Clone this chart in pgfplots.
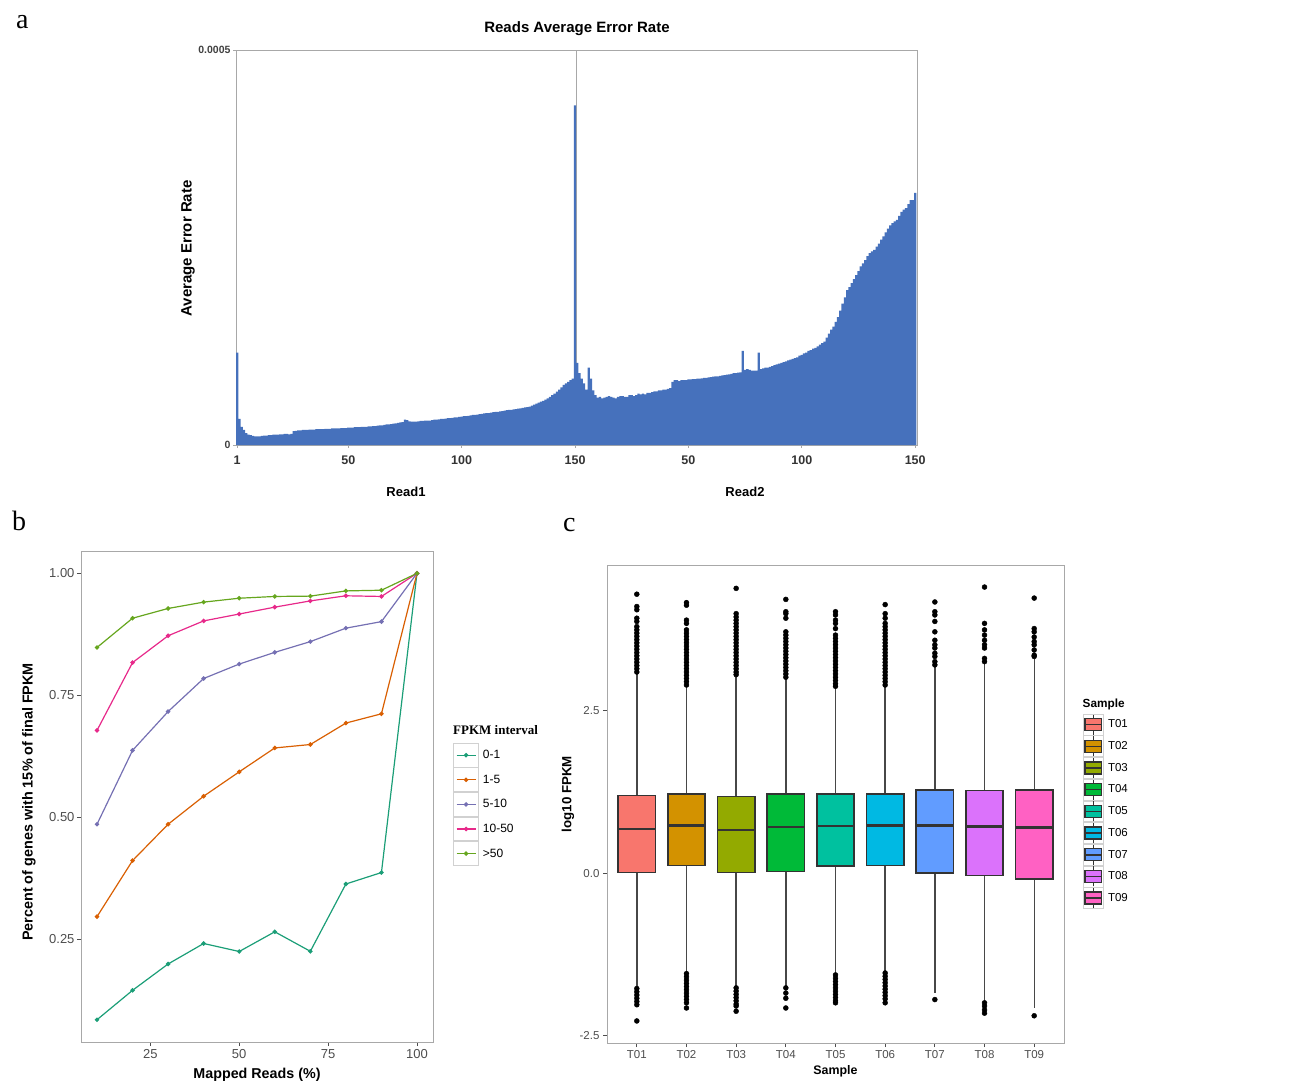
\documentclass[border=0pt]{standalone}
\usepackage{pgfplots}
\pgfplotsset{compat=1.18}
\usepgfplotslibrary{statistics}
\usepackage{fontspec}
\setmainfont{Liberation Sans}
\newfontfamily\seriffont{Liberation Serif}
\definecolor{barblue}{HTML}{4671BC}
\definecolor{d1}{HTML}{1B9E77}
\definecolor{d2}{HTML}{D95F02}
\definecolor{d3}{HTML}{7570B3}
\definecolor{d4}{HTML}{E7298A}
\definecolor{d5}{HTML}{66A61E}
\definecolor{h1}{HTML}{F8766D}
\definecolor{h2}{HTML}{D39200}
\definecolor{h3}{HTML}{93AA00}
\definecolor{h4}{HTML}{00BA38}
\definecolor{h5}{HTML}{00C19F}
\definecolor{h6}{HTML}{00B9E3}
\definecolor{h7}{HTML}{619CFF}
\definecolor{h8}{HTML}{DB72FB}
\definecolor{h9}{HTML}{FF61C3}
\definecolor{frame}{HTML}{A8A8A8}
\definecolor{tlab}{HTML}{4D4D4D}
\definecolor{boxline}{HTML}{333333}

\pgfplotstableread{
x y
1 11.7
2 3.3
3 2.3
4 1.9
5 1.5
6 1.3
7 1.25
8 1.15
9 1.1
10 1.1
11 1.1
12 1.15
13 1.2
14 1.2
15 1.25
16 1.25
17 1.3
18 1.3
19 1.3
20 1.35
21 1.35
22 1.4
23 1.4
24 1.35
25 1.4
26 1.75
27 1.8
28 1.85
29 1.85
30 1.9
31 1.9
32 1.9
33 1.95
34 1.95
35 1.95
36 2.0
37 2.0
38 2.0
39 2.0
40 2.05
41 2.05
42 2.05
43 2.1
44 2.1
45 2.1
46 2.1
47 2.15
48 2.15
49 2.15
50 2.2
51 2.2
52 2.2
53 2.25
54 2.25
55 2.25
56 2.3
57 2.3
58 2.3
59 2.35
60 2.35
61 2.4
62 2.4
63 2.45
64 2.5
65 2.5
66 2.55
67 2.6
68 2.6
69 2.65
70 2.7
71 2.75
72 2.8
73 2.85
74 2.9
75 3.2
76 3.15
77 3.0
78 2.95
79 2.95
80 2.95
81 3.0
82 3.05
83 3.05
84 3.1
85 3.1
86 3.1
87 3.15
88 3.2
89 3.2
90 3.25
91 3.3
92 3.3
93 3.35
94 3.4
95 3.4
96 3.45
97 3.5
98 3.5
99 3.55
100 3.6
101 3.65
102 3.65
103 3.7
104 3.75
105 3.8
106 3.8
107 3.85
108 3.9
109 3.95
110 4.0
111 4.05
112 4.05
113 4.1
114 4.15
115 4.2
116 4.2
117 4.25
118 4.3
119 4.35
120 4.4
121 4.45
122 4.45
123 4.5
124 4.55
125 4.6
126 4.65
127 4.7
128 4.75
129 4.8
130 4.85
131 5.0
132 5.1
133 5.25
134 5.35
135 5.5
136 5.6
137 5.75
138 5.9
139 6.1
140 6.3
141 6.5
142 6.75
143 7.0
144 7.3
145 7.6
146 7.8
147 8.0
148 8.2
149 8.4
150 43.0
151 10.4
152 9.1
153 8.4
154 7.8
155 7.0
156 9.8
157 8.4
158 6.9
159 6.3
160 6.0
161 6.1
162 5.9
163 6.0
164 6.1
165 6.2
166 6.1
167 6.0
168 5.9
169 6.1
170 6.2
171 6.2
172 6.1
173 6.1
174 6.3
175 6.3
176 6.2
177 6.3
178 6.5
179 6.4
180 6.5
181 6.4
182 6.6
183 6.6
184 6.7
185 6.8
186 6.8
187 6.9
188 6.9
189 7.0
190 7.0
191 7.1
192 7.2
193 8.0
194 8.2
195 8.2
196 8.1
197 8.2
198 8.2
199 8.2
200 8.3
201 8.3
202 8.35
203 8.35
204 8.4
205 8.4
206 8.45
207 8.5
208 8.5
209 8.55
210 8.6
211 8.65
212 8.7
213 8.7
214 8.75
215 8.8
216 8.85
217 8.9
218 8.95
219 9.0
220 9.1
221 9.1
222 9.15
223 9.2
224 11.9
225 9.5
226 9.6
227 9.5
228 9.4
229 9.4
230 9.4
231 11.7
232 9.6
233 9.7
234 9.8
235 9.8
236 9.9
237 10.0
238 10.1
239 10.2
240 10.3
241 10.4
242 10.5
243 10.6
244 10.7
245 10.8
246 10.9
247 11.0
248 11.1
249 11.3
250 11.4
251 11.6
252 11.7
253 11.9
254 12.0
255 12.2
256 12.3
257 12.5
258 12.7
259 12.9
260 13.1
261 13.6
262 14.1
263 14.6
264 15.0
265 15.6
266 16.2
267 17.0
268 17.9
269 18.7
270 19.6
271 20.0
272 20.5
273 21.0
274 21.5
275 22.0
276 22.6
277 23.0
278 23.4
279 23.9
280 24.3
281 24.5
282 24.7
283 25.1
284 25.5
285 26.0
286 26.4
287 26.9
288 27.4
289 27.8
290 28.1
291 28.3
292 28.5
293 29.0
294 29.5
295 29.8
296 30.0
297 30.5
298 31.0
299 31.0
300 31.9
}\errdata

\begin{document}
\begin{tikzpicture}
\path[use as bounding box] (0pt,0pt) rectangle (1293pt,-1082pt);

% ---------------- panel a ----------------
\begin{axis}[
  at={(236pt,-445pt)}, anchor=south west,
  scale only axis, width=681pt, height=395pt,
  xmin=0.5, xmax=300.8, ymin=0, ymax=50,
  axis line style={draw=frame, line width=0.9pt},
  tick align=outside, major tick length=3pt,
  xtick pos=lower, ytick pos=left,
  tick style={draw=frame, line width=0.8pt},
  xtick={1,50,100,150,200,250,300},
  xticklabels={1,50,100,150,50,100,150},
  ytick={0,50}, yticklabels={0,0.0005},
  xticklabel style={font=\bfseries\fontsize{12.5}{14}\selectfont, text=black!80, yshift=-4pt},
  yticklabel style={font=\bfseries\fontsize{10.5}{12}\selectfont, text=black!75, xshift=1pt},
]
\draw[frame, line width=0.8pt] (axis cs:150.5,0) -- (axis cs:150.5,50);
\addplot[ybar, bar width=1.0, fill=barblue, draw=none] table[x=x, y=y] {\errdata};
\end{axis}
\node[font=\bfseries\fontsize{15}{17}\selectfont] at (577pt,-29pt) {Reads Average Error Rate};
\node[rotate=90, font=\bfseries\fontsize{15}{17}\selectfont] at (188pt,-248.5pt) {Average Error Rate};
\node[font=\bfseries\fontsize{13}{15}\selectfont] at (406pt,-491.5pt) {Read1};
\node[font=\bfseries\fontsize{13}{15}\selectfont] at (745pt,-491.5pt) {Read2};
\node[anchor=base west, font=\seriffont\fontsize{28}{30}\selectfont, inner sep=0pt] at (16pt,-28pt) {a};

% ---------------- panel b ----------------
\begin{axis}[
  at={(81pt,-1042pt)}, anchor=south west,
  scale only axis, width=352pt, height=491pt,
  xmin=5.5, xmax=104.5, ymin=0.039, ymax=1.0458,
  axis line style={draw=frame, line width=0.9pt},
  tick align=outside, major tick length=4pt,
  xtick pos=lower, ytick pos=left,
  tick style={draw=tlab, line width=0.9pt},
  xtick={25,50,75,100}, xticklabels={25,50,75,100},
  ytick={0.25,0.5,0.75,1}, yticklabels={0.25,0.50,0.75,1.00},
  ticklabel style={font=\fontsize{13}{15}\selectfont, text=tlab},
  yticklabel style={xshift=1pt},
  legend style={at={(1.0568,0.6096)}, anchor=north west, draw=none, fill=none,
    inner sep=0pt, row sep=0pt, column sep=2pt,
    font=\fontsize{12}{14}\selectfont, cells={anchor=west}},
  legend image code/.code={
    \draw[black!18, fill=white, line width=0.8pt] (0pt,-11.9pt) rectangle (25pt,11.9pt);
    \draw[mark repeat=2, mark phase=2, #1] plot coordinates {(3pt,0pt) (12.5pt,0pt) (22pt,0pt)};
  },
]
\addplot[d1, line width=1.2pt, mark=*, mark size=1.6pt] coordinates {
(10,0.0847) (20,0.145) (30,0.199) (40,0.241) (50,0.2246) (60,0.265) (70,0.225) (80,0.363) (90,0.3865) (100,1.0)};
\addlegendentry{0-1}
\addplot[d2, line width=1.2pt, mark=*, mark size=1.6pt] coordinates {
(10,0.296) (20,0.411) (30,0.4855) (40,0.543) (50,0.593) (60,0.642) (70,0.649) (80,0.693) (90,0.712) (100,1.0)};
\addlegendentry{1-5}
\addplot[d3, line width=1.2pt, mark=*, mark size=1.6pt] coordinates {
(10,0.4855) (20,0.637) (30,0.7166) (40,0.7844) (50,0.814) (60,0.838) (70,0.860) (80,0.8876) (90,0.901) (100,1.0)};
\addlegendentry{5-10}
\addplot[d4, line width=1.2pt, mark=*, mark size=1.6pt] coordinates {
(10,0.678) (20,0.817) (30,0.872) (40,0.9025) (50,0.9166) (60,0.9307) (70,0.9435) (80,0.954) (90,0.9526) (100,1.0)};
\addlegendentry{10-50}
\addplot[d5, line width=1.2pt, mark=*, mark size=1.6pt] coordinates {
(10,0.848) (20,0.908) (30,0.928) (40,0.941) (50,0.949) (60,0.9526) (70,0.9533) (80,0.964) (90,0.9654) (100,1.0)};
\addlegendentry{>50}
\end{axis}
\node[font=\bfseries\fontsize{14.3}{16}\selectfont] at (257pt,-1075pt) {Mapped Reads (\%)};
\node[rotate=90, font=\bfseries\fontsize{14.4}{16}\selectfont] at (29pt,-802pt) {Percent of genes with 15\% of final FPKM};
\node[anchor=west, inner sep=0pt, font=\seriffont\bfseries\fontsize{13}{15}\selectfont] at (453pt,-730pt) {FPKM interval};
\node[anchor=base west, font=\seriffont\fontsize{28}{30}\selectfont, inner sep=0pt] at (12pt,-530pt) {b};

% ---------------- panel c ----------------
\begin{axis}[
  at={(607pt,-1043pt)}, anchor=south west,
  scale only axis, width=457pt, height=478pt,
  xmin=0.4, xmax=9.6, ymin=-2.62, ymax=4.75,
  axis line style={draw=frame, line width=0.9pt},
  tick align=outside, major tick length=4pt,
  xtick pos=lower, ytick pos=left,
  tick style={draw=tlab, line width=0.9pt},
  xtick={1,2,3,4,5,6,7,8,9},
  xticklabels={T01,T02,T03,T04,T05,T06,T07,T08,T09},
  ytick={-2.5,0,2.5}, yticklabels={-2.5,0.0,2.5},
  ticklabel style={font=\fontsize{11.5}{13}\selectfont, text=tlab},
  boxplot/draw direction=y,
  boxplot/every median/.style={line width=2.6pt, draw=boxline},
  boxplot/every box/.style={draw=boxline, line width=1.7pt},
  boxplot/every whisker/.style={draw=boxline!90, line width=1.4pt},
  legend style={at={(1.0405,0.6893)}, anchor=north west, draw=none, fill=none,
    inner sep=0pt, row sep=0pt, column sep=2pt,
    font=\fontsize{11.5}{13}\selectfont, cells={anchor=west}},
  legend image code/.code={
    \draw[black!18, fill=white, line width=0.8pt] (0pt,-10.45pt) rectangle (20.5pt,10.45pt);
    \draw[boxline, line width=1pt] (10.25pt,-10pt) -- (10.25pt,10pt);
    \draw[#1, line width=1.4pt] (2pt,-6pt) rectangle (18.5pt,6pt);
    \draw[boxline, line width=1.5pt] (2pt,0pt) -- (18.5pt,0pt);
  },
]
\pgfplotsset{cbox/.style={forget plot, draw=boxline, line width=1.6pt}}
\addplot[cbox, fill=h1, boxplot prepared={draw position=1, lower whisker=-1.75, lower quartile=0.01, median=0.678, upper quartile=1.196, upper whisker=3.07, box extend=0.75, whisker extend=0}] coordinates {};
\addplot[cbox, fill=h2, boxplot prepared={draw position=2, lower whisker=-1.52, lower quartile=0.118, median=0.734, upper quartile=1.222, upper whisker=2.87, box extend=0.75, whisker extend=0}] coordinates {};
\addplot[cbox, fill=h3, boxplot prepared={draw position=3, lower whisker=-1.74, lower quartile=0.01, median=0.667, upper quartile=1.18, upper whisker=3.03, box extend=0.75, whisker extend=0}] coordinates {};
\addplot[cbox, fill=h4, boxplot prepared={draw position=4, lower whisker=-1.74, lower quartile=0.026, median=0.708, upper quartile=1.217, upper whisker=2.99, box extend=0.75, whisker extend=0}] coordinates {};
\addplot[cbox, fill=h5, boxplot prepared={draw position=5, lower whisker=-1.54, lower quartile=0.113, median=0.729, upper quartile=1.217, upper whisker=2.85, box extend=0.75, whisker extend=0}] coordinates {};
\addplot[cbox, fill=h6, boxplot prepared={draw position=6, lower whisker=-1.51, lower quartile=0.118, median=0.734, upper quartile=1.217, upper whisker=2.87, box extend=0.75, whisker extend=0}] coordinates {};
\addplot[cbox, fill=h7, boxplot prepared={draw position=7, lower whisker=-1.85, lower quartile=0.0, median=0.734, upper quartile=1.283, upper whisker=3.18, box extend=0.75, whisker extend=0}] coordinates {};
\addplot[cbox, fill=h8, boxplot prepared={draw position=8, lower whisker=-1.97, lower quartile=-0.036, median=0.719, upper quartile=1.273, upper whisker=3.22, box extend=0.75, whisker extend=0}] coordinates {};
\addplot[cbox, fill=h9, boxplot prepared={draw position=9, lower whisker=-2.08, lower quartile=-0.092, median=0.703, upper quartile=1.283, upper whisker=3.30, box extend=0.75, whisker extend=0}] coordinates {};
\addplot[forget plot, only marks, mark=*, mark size=2.5pt, black] coordinates {
(1,4.30) (1,4.11) (1,4.06) (1,3.93) (1,3.88) (1,3.80) (1,3.75) (1,3.70) (1,3.65) (1,3.60) (1,3.55) (1,3.50) (1,3.45) (1,3.40) (1,3.35) (1,3.30) (1,3.25) (1,3.20) (1,3.15) (1,3.10)
(1,-1.78) (1,-1.83) (1,-1.88) (1,-1.93) (1,-1.98) (1,-2.03) (1,-2.28)
(2,4.17) (2,4.13) (2,3.90) (2,3.85) (2,3.75) (2,3.70) (2,3.65) (2,3.60) (2,3.55) (2,3.50) (2,3.45) (2,3.40) (2,3.35) (2,3.30) (2,3.25) (2,3.20) (2,3.15) (2,3.10) (2,3.05) (2,3.00) (2,2.95) (2,2.90)
(2,-1.55) (2,-1.60) (2,-1.65) (2,-1.70) (2,-1.75) (2,-1.80) (2,-1.85) (2,-1.90) (2,-1.95) (2,-2.00) (2,-2.08)
(3,4.39) (3,4.00) (3,3.95) (3,3.90) (3,3.85) (3,3.80) (3,3.75) (3,3.70) (3,3.65) (3,3.60) (3,3.55) (3,3.50) (3,3.45) (3,3.40) (3,3.35) (3,3.30) (3,3.25) (3,3.20) (3,3.15) (3,3.10) (3,3.06)
(3,-1.77) (3,-1.82) (3,-1.87) (3,-1.92) (3,-1.97) (3,-2.02) (3,-2.05) (3,-2.13)
(4,4.22) (4,4.03) (4,4.00) (4,3.93) (4,3.72) (4,3.67) (4,3.62) (4,3.57) (4,3.52) (4,3.47) (4,3.42) (4,3.37) (4,3.32) (4,3.27) (4,3.22) (4,3.17) (4,3.12) (4,3.07) (4,3.02)
(4,-1.77) (4,-1.85) (4,-1.93) (4,-2.08)
(5,4.03) (5,3.98) (5,3.90) (5,3.85) (5,3.77) (5,3.67) (5,3.62) (5,3.57) (5,3.52) (5,3.47) (5,3.42) (5,3.37) (5,3.32) (5,3.27) (5,3.22) (5,3.17) (5,3.12) (5,3.07) (5,3.02) (5,2.97) (5,2.92) (5,2.88)
(5,-1.57) (5,-1.62) (5,-1.67) (5,-1.72) (5,-1.77) (5,-1.82) (5,-1.87) (5,-1.92) (5,-1.97) (5,-2.00)
(6,4.14) (6,4.00) (6,3.93) (6,3.85) (6,3.80) (6,3.75) (6,3.70) (6,3.65) (6,3.60) (6,3.55) (6,3.50) (6,3.45) (6,3.40) (6,3.35) (6,3.30) (6,3.25) (6,3.20) (6,3.15) (6,3.10) (6,3.05) (6,3.00) (6,2.95) (6,2.90)
(6,-1.54) (6,-1.59) (6,-1.64) (6,-1.69) (6,-1.74) (6,-1.79) (6,-1.84) (6,-1.89) (6,-1.94) (6,-2.00)
(7,4.18) (7,4.03) (7,3.98) (7,3.88) (7,3.72) (7,3.59) (7,3.52) (7,3.47) (7,3.39) (7,3.34) (7,3.26) (7,3.21)
(7,-1.95)
(8,4.41) (8,3.85) (8,3.75) (8,3.67) (8,3.59) (8,3.52) (8,3.47) (8,3.31) (8,3.26)
(8,-2.00) (8,-2.05) (8,-2.11) (8,-2.16)
(9,4.24) (9,3.77) (9,3.72) (9,3.64) (9,3.57) (9,3.52) (9,3.44) (9,3.36) (9,3.34)
(9,-2.20)
};
\addlegendimage{fill=h1, draw=boxline}\addlegendentry{T01}
\addlegendimage{fill=h2, draw=boxline}\addlegendentry{T02}
\addlegendimage{fill=h3, draw=boxline}\addlegendentry{T03}
\addlegendimage{fill=h4, draw=boxline}\addlegendentry{T04}
\addlegendimage{fill=h5, draw=boxline}\addlegendentry{T05}
\addlegendimage{fill=h6, draw=boxline}\addlegendentry{T06}
\addlegendimage{fill=h7, draw=boxline}\addlegendentry{T07}
\addlegendimage{fill=h8, draw=boxline}\addlegendentry{T08}
\addlegendimage{fill=h9, draw=boxline}\addlegendentry{T09}
\end{axis}
\node[font=\bfseries\fontsize{12.4}{14}\selectfont] at (835.5pt,-1071.5pt) {Sample};
\node[rotate=90, font=\bfseries\fontsize{13.3}{15}\selectfont] at (568pt,-794pt) {log10 FPKM};
\node[anchor=west, inner sep=0pt, font=\bfseries\fontsize{11.8}{14}\selectfont] at (1082.5pt,-704pt) {Sample};
\node[anchor=base west, font=\seriffont\fontsize{28}{30}\selectfont, inner sep=0pt] at (563pt,-531pt) {c};
\end{tikzpicture}
\end{document}
